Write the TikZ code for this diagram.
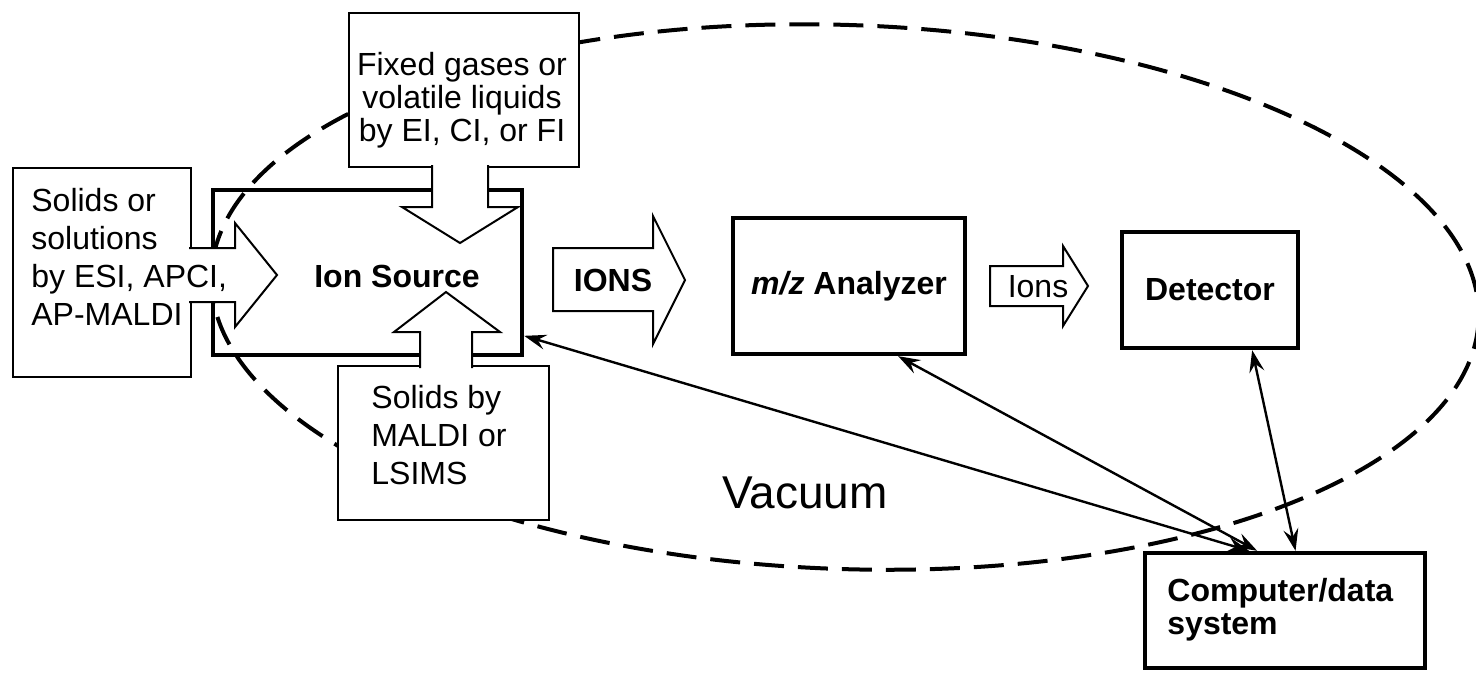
\documentclass[tikz,border=0pt]{standalone}
\usepackage{fontspec}
\setmainfont{Liberation Sans}
\usetikzlibrary{arrows.meta}

\begin{document}
\begin{tikzpicture}[x=0.5pt, y=-0.5pt,
    inbox/.style={draw, line width=1pt, fill=white, inner sep=0pt},
    unit/.style={draw, line width=2.2pt, fill=white, inner sep=0pt},
    txt/.style={inner sep=0pt, font=\fontsize{16}{19}\selectfont},
    blk/.style={inner sep=0pt, font=\fontsize{16}{16.5}\selectfont\bfseries},
    fat/.style={draw, line width=1pt, fill=white},
    link/.style={line width=1.2pt, {Stealth[length=11pt,width=7.5pt,inset=4pt]}-{Stealth[length=11pt,width=7.5pt,inset=4pt]}}]
  \useasboundingbox (0,0) rectangle (1476,677);

  % vacuum chamber
  \draw[line width=2pt, dash pattern=on 15pt off 7pt, rotate around={-2:(845,297)}]
    (845,297) ellipse [x radius=634, y radius=272];

  % ion source, left open so the dashes show through
  \node[unit, fill=none, minimum width=154.5pt, minimum height=82.5pt] (src) at (367.5,272.5) {};

  % sample inlets
  \node[inbox, minimum width=115pt, minimum height=77pt] (gas) at (464,90) {};
  \node[inbox, minimum width=89pt, minimum height=104.5pt] (sol) at (102,272.5) {};
  \node[inbox, minimum width=105.5pt, minimum height=77pt] (maldi) at (443.5,443) {};
  \draw[fat] (432,165) -- (432,207) -- (402,207) -- (460,243) -- (518,207) -- (488,207) -- (488,165);
  \draw[fat] (189,248) -- (235,248) -- (235,223) -- (277,275) -- (235,327) -- (235,302) -- (189,302);
  \draw[fat] (420,368) -- (420,332) -- (394,332) -- (446,292) -- (500,332) -- (472,332) -- (472,368);
  \node[txt, align=center, font=\fontsize{16}{16.5}\selectfont] (gastxt) at (462,100)
    {Fixed gases or\\volatile liquids\\by EI, CI, or FI};
  \node[txt, align=left, anchor=north west] (soltxt) at (31,188)
    {Solids or\\solutions\\by ESI, APCI,\\AP-MALDI};
  \node[txt, align=left, anchor=north west] (malditxt) at (371,385)
    {Solids by\\MALDI or\\LSIMS};
  \node[blk] (srctxt) at (397,276) {Ion Source};

  % ion path
  \draw[fat] (553,248) -- (653,248) -- (653,216) -- (685,280) -- (653,344) -- (653,311) -- (553,311) -- cycle;
  \node[blk] (ionsbig) at (613,280) {IONS};
  \node[unit, blk, minimum width=116pt, minimum height=68pt] (mz) at (849,286) {\textit{m/z} Analyzer};
  \draw[fat] (990,266) -- (1063,266) -- (1063,246) -- (1088,286) -- (1063,326) -- (1063,306) -- (990,306) -- cycle;
  \node[txt] (ionssmall) at (1038,287) {Ions};
  \node[unit, blk, minimum width=88pt, minimum height=58pt] (det) at (1210,290) {Detector};

  % data system
  \node[unit, minimum width=140pt, minimum height=57.5pt] (pc) at (1285,610.5) {};
  \node[blk, align=left, anchor=north west] (pctxt) at (1167,578) {Computer/data\\system};
  \node[font=\fontsize{23}{23}\selectfont] (vac) at (805,493) {Vacuum};

  \draw[link] (src.-22.7) -- (pc.121);
  \draw[link] (mz.-55) -- (pc.115);
  \draw[link] (det.-55) -- (pc.80);
\end{tikzpicture}
\end{document}
